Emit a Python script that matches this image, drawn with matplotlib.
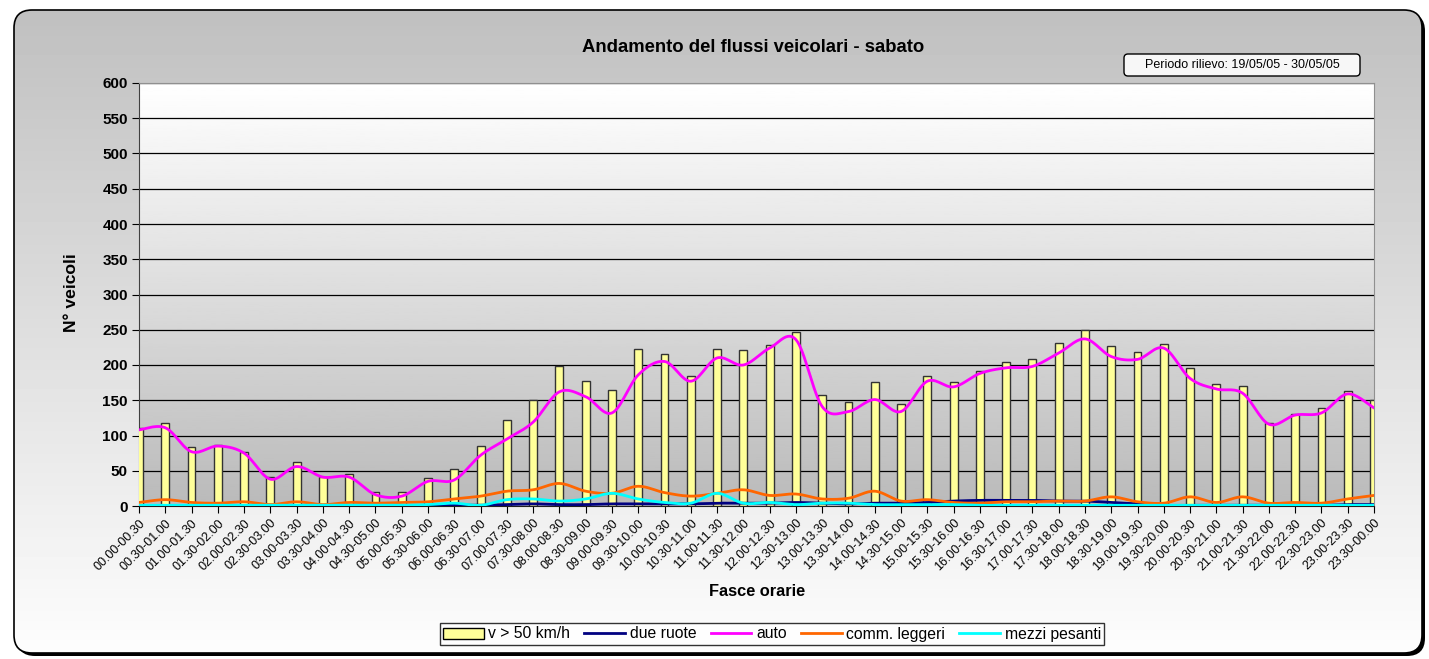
import numpy as np
import matplotlib
matplotlib.use("Agg")
import matplotlib.pyplot as plt
from matplotlib.patches import FancyBboxPatch, Patch
from matplotlib.lines import Line2D

plt.rcParams['font.family'] = ['Liberation Sans', 'DejaVu Sans']

# fasce orarie (48 mezz'ore)
fasce = ['%02d.%02d-%02d.%02d' % (i // 2, 30 * (i % 2), ((i + 1) // 2) % 24, 30 * ((i + 1) % 2))
         for i in range(48)]

v50 = [111, 118, 83, 86, 77, 41, 63, 41, 46, 20, 20, 40, 53, 85, 122, 151,
       198, 178, 164, 223, 215, 184, 223, 221, 229, 247, 158, 148, 176, 145, 184, 176,
       191, 204, 208, 231, 250, 227, 219, 230, 196, 173, 170, 118, 130, 139, 163, 151]
due_ruote = [0, 0, 0, 0, 0, 0, 0, 0, 0, 0, 0, 0, 1, 1, 2, 3,
             2, 2, 3, 3, 3, 3, 4, 4, 4, 5, 4, 3, 4, 4, 5, 7,
             8, 8, 8, 7, 7, 5, 3, 1, 1, 1, 1, 1, 1, 1, 2, 2]
auto = [108, 111, 77, 85, 75, 38, 56, 41, 41, 16, 14, 35, 37, 72, 95, 119,
        162, 155, 132, 186, 205, 177, 210, 200, 224, 236, 141, 134, 151, 134, 177, 169,
        188, 196, 198, 217, 237, 212, 208, 224, 181, 166, 160, 116, 129, 132, 159, 139]
comm_leggeri = [5, 9, 5, 4, 6, 2, 6, 2, 5, 4, 5, 6, 10, 14, 21, 23,
                32, 21, 18, 28, 19, 14, 18, 23, 15, 17, 10, 11, 21, 7, 9, 5,
                4, 6, 6, 7, 7, 13, 6, 4, 13, 5, 13, 4, 5, 4, 10, 15]
mezzi_pesanti = [1, 1, 1, 1, 1, 1, 1, 1, 1, 1, 1, 2, 4, 1, 9, 10,
                 7, 10, 18, 10, 5, 4, 18, 4, 5, 2, 4, 4, 2, 2, 2, 2,
                 1, 1, 1, 1, 1, 1, 1, 1, 1, 1, 1, 1, 1, 1, 1, 1]


def smooth(y, n=16):
    # curva tipo Excel (Catmull-Rom / Bezier)
    p = np.column_stack([np.arange(len(y)), np.asarray(y, float)])
    out = []
    for i in range(len(p) - 1):
        p0 = p[i - 1] if i > 0 else p[i]
        p1, p2 = p[i], p[i + 1]
        p3 = p[i + 2] if i + 2 < len(p) else p[i + 1]
        c1 = p1 + (p2 - p0) / 6
        c2 = p2 - (p3 - p1) / 6
        t = np.linspace(0, 1, n, endpoint=False)[:, None]
        out.append((1 - t) ** 3 * p1 + 3 * (1 - t) ** 2 * t * c1 + 3 * (1 - t) * t ** 2 * c2 + t ** 3 * p2)
    out.append(p[-1:])
    out = np.vstack(out)
    return out[:, 0], out[:, 1]


W, H = 1429, 659
fig = plt.figure(figsize=(W / 100, H / 100), dpi=100)

# sfondo grafico
bg = fig.add_axes([0, 0, 1, 1])
bg.set_xlim(0, W)
bg.set_ylim(0, H)
bg.axis('off')
shadow = FancyBboxPatch((17, 3), 1408, 643, boxstyle='round,pad=0,rounding_size=18',
                        fc='black', ec='none')
bg.add_patch(shadow)
frame = FancyBboxPatch((14, 6), 1408, 643, boxstyle='round,pad=0,rounding_size=18',
                       fc='none', ec='black', lw=1.2, zorder=3)
bg.add_patch(frame)
grad = np.linspace(192, 253, 200)[:, None] / 255.0
im = bg.imshow(grad, extent=(14, 1422, 6, 649), cmap='gray', vmin=0, vmax=1,
               aspect='auto', zorder=2)
im.set_clip_path(frame)

box = FancyBboxPatch((1124, 583), 236, 22, boxstyle='round,pad=0,rounding_size=4',
                     fc='#f7f7f7', ec='black', lw=1, zorder=4)
bg.add_patch(box)
bg.text(1242, 594, 'Periodo rilievo: 19/05/05 - 30/05/05', ha='center', va='center',
        fontsize=9, zorder=5)

# area del tracciato
ax = fig.add_axes([139 / W, 1 - 506 / H, (1374 - 139) / W, (506 - 83) / H])
ax.patch.set_visible(False)
pg = np.linspace(1, 186 / 255, 200)[:, None]
ax.imshow(pg, extent=(0, 1, 0, 1), transform=ax.transAxes, cmap='gray', vmin=0, vmax=1,
          aspect='auto', zorder=0)

x = np.arange(len(fasce))
ax.bar(x, v50, width=0.3, color='#FFFF99', edgecolor='#333333', linewidth=1, zorder=3)
for serie, col in [(due_ruote, '#000080'), (auto, '#FF00FF'),
                   (comm_leggeri, '#FF6600'), (mezzi_pesanti, '#00FFFF')]:
    sx, sy = smooth(serie)
    ax.plot(sx, sy, color=col, lw=2, zorder=4, solid_capstyle='round')

ax.set_xlim(0, len(fasce) - 1)
ax.set_ylim(0, 600)
ax.set_yticks(np.arange(0, 601, 50))
for yy in range(50, 601, 50):
    ax.axhline(yy, color='black', lw=0.9, zorder=1)
ax.set_xticks(x)
ax.set_xticklabels(fasce, rotation=45, ha='right', va='top', rotation_mode='anchor', fontsize=9)
ax.tick_params(axis='x', length=5, width=0.8, pad=3)
ax.tick_params(axis='y', length=5, width=0.8, pad=3, labelsize=11)
for lab in ax.get_yticklabels():
    lab.set_fontweight('bold')
ax.spines['left'].set_color('#404040')
ax.spines['bottom'].set_color('#202020')
ax.spines['top'].set_color('#909090')
ax.spines['right'].set_color('#909090')

fig.text(753 / W, 1 - 48 / H, 'Andamento del flussi veicolari - sabato', ha='center', va='center',
         fontsize=13.3, fontweight='bold')
fig.text(72 / W, 1 - 293 / H, 'N° veicoli', rotation=90, ha='center', va='center',
         fontsize=12.6, fontweight='bold')
fig.text(757 / W, 1 - 592 / H, 'Fasce orarie', ha='center', va='center',
         fontsize=11.8, fontweight='bold')

handles = [Patch(fc='#FFFF99', ec='black', lw=1),
           Line2D([], [], color='#000080', lw=2),
           Line2D([], [], color='#FF00FF', lw=2),
           Line2D([], [], color='#FF6600', lw=2),
           Line2D([], [], color='#00FFFF', lw=2)]
labels = ['v > 50 km/h', 'due ruote', 'auto', 'comm. leggeri', 'mezzi pesanti']
leg = fig.legend(handles, labels, loc='center', bbox_to_anchor=(772 / W, 1 - 634 / H), ncol=5,
                 fontsize=11.3, frameon=True, fancybox=False, handlelength=2.6,
                 handletextpad=0.3, columnspacing=0.9, borderpad=0.2)
leg.get_frame().set_edgecolor('black')
leg.get_frame().set_linewidth(1)

fig.savefig('out.png', dpi=100)
